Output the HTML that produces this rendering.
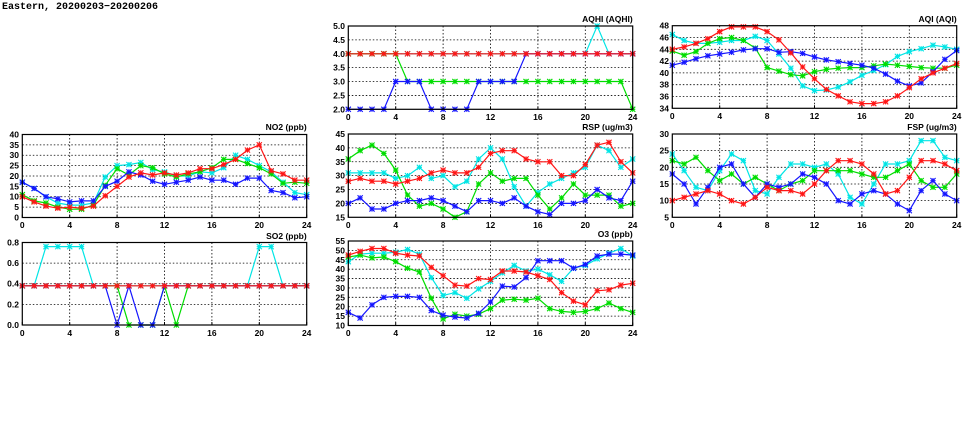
<!DOCTYPE html>
<html><head><meta charset="utf-8"><style>
html,body{margin:0;padding:0;background:#fff;width:975px;height:447px;overflow:hidden}
svg text{font-family:"Liberation Sans",sans-serif;font-size:8.5px;font-weight:bold;fill:#000}
</style></head><body>
<svg id="s" width="975" height="447" viewBox="0 0 975 447" xmlns="http://www.w3.org/2000/svg">
<text x="2" y="9" style="font-family:'Liberation Mono',monospace;font-size:10px;font-weight:bold">Eastern, 20200203−20200206</text>
<g id="dyn"></g>
<g text-anchor="end">
<text x="306.7" y="130">NO2 (ppb)</text>
<text x="306.7" y="239">SO2 (ppb)</text>
<text x="632.7" y="22">AQHI (AQHI)</text>
<text x="632.7" y="130">RSP (ug/m3)</text>
<text x="632.7" y="237">O3 (ppb)</text>
<text x="956.7" y="22">AQI (AQI)</text>
<text x="956.7" y="130">FSP (ug/m3)</text>
</g>
<g text-anchor="end">
<text x="19" y="220.5">0</text><text x="19" y="210.1">5</text><text x="19" y="199.7">10</text><text x="19" y="189.4">15</text><text x="19" y="179">20</text><text x="19" y="168.6">25</text><text x="19" y="158.2">30</text><text x="19" y="147.9">35</text><text x="19" y="137.5">40</text>
<text x="19" y="245.5">0.8</text><text x="19" y="266.1">0.6</text><text x="19" y="286.7">0.4</text><text x="19" y="307.4">0.2</text><text x="19" y="328">0.0</text>
<text x="345" y="29">5.0</text><text x="345" y="42.9">4.5</text><text x="345" y="56.8">4.0</text><text x="345" y="70.6">3.5</text><text x="345" y="84.5">3.0</text><text x="345" y="98.4">2.5</text><text x="345" y="112.3">2.0</text>
<text x="345" y="137">45</text><text x="345" y="150.9">40</text><text x="345" y="164.8">35</text><text x="345" y="178.6">30</text><text x="345" y="192.5">25</text><text x="345" y="206.4">20</text><text x="345" y="220.3">15</text>
<text x="345" y="244">55</text><text x="345" y="253.4">50</text><text x="345" y="262.8">45</text><text x="345" y="272.2">40</text><text x="345" y="281.6">35</text><text x="345" y="290.9">30</text><text x="345" y="300.3">25</text><text x="345" y="309.7">20</text><text x="345" y="319.1">15</text><text x="345" y="328.5">10</text>
<text x="669" y="28.7">48</text><text x="669" y="40.5">46</text><text x="669" y="52.3">44</text><text x="669" y="64.1">42</text><text x="669" y="75.9">40</text><text x="669" y="87.7">38</text><text x="669" y="99.5">36</text><text x="669" y="111.3">34</text>
<text x="669" y="137">30</text><text x="669" y="153.7">25</text><text x="669" y="170.3">20</text><text x="669" y="187">15</text><text x="669" y="203.6">10</text><text x="669" y="220.3">5</text>
</g>
<g text-anchor="middle">
<text x="22.3" y="228">0</text><text x="69.7" y="228">4</text><text x="117.1" y="228">8</text><text x="164.5" y="228">12</text><text x="211.9" y="228">16</text><text x="259.3" y="228">20</text><text x="306.7" y="228">24</text>
<text x="22.3" y="336">0</text><text x="69.7" y="336">4</text><text x="117.1" y="336">8</text><text x="164.5" y="336">12</text><text x="211.9" y="336">16</text><text x="259.3" y="336">20</text><text x="306.7" y="336">24</text>
<text x="348.3" y="120">0</text><text x="395.7" y="120">4</text><text x="443.1" y="120">8</text><text x="490.5" y="120">12</text><text x="537.9" y="120">16</text><text x="585.3" y="120">20</text><text x="632.7" y="120">24</text>
<text x="348.3" y="228">0</text><text x="395.7" y="228">4</text><text x="443.1" y="228">8</text><text x="490.5" y="228">12</text><text x="537.9" y="228">16</text><text x="585.3" y="228">20</text><text x="632.7" y="228">24</text>
<text x="348.3" y="336">0</text><text x="395.7" y="336">4</text><text x="443.1" y="336">8</text><text x="490.5" y="336">12</text><text x="537.9" y="336">16</text><text x="585.3" y="336">20</text><text x="632.7" y="336">24</text>
<text x="672.3" y="119">0</text><text x="719.7" y="119">4</text><text x="767.1" y="119">8</text><text x="814.5" y="119">12</text><text x="861.9" y="119">16</text><text x="909.3" y="119">20</text><text x="956.7" y="119">24</text>
<text x="672.3" y="228">0</text><text x="719.7" y="228">4</text><text x="767.1" y="228">8</text><text x="814.5" y="228">12</text><text x="861.9" y="228">16</text><text x="909.3" y="228">20</text><text x="956.7" y="228">24</text>
</g>
</svg>
<script>
var C={c:"#00e5e5",g:"#00dd00",b:"#1515ff",r:"#ff1515"};
var P=[
{x0:22.3,x1:306.7,t:134.5,b:217.5,mn:0,mx:40,st:5,d:{
c:[17,14,10,7,6,6,7,19.5,25,25.5,26.5,23,22,20,20,22,21.5,24,30,28,25,22,17,12,11],
g:[11,8,7,5,4,4,6,15.5,23.5,20.5,25,24,21,19.5,21,22,24,28,28,26,24,21,16.5,17,16.5],
b:[17,14,10,9,7.5,8,8,15,17.5,22,20.5,17.5,16,17,18,19.5,18,18,16,19,19,13,12,9.5,10],
r:[10,7.5,5.5,4.5,5,4.5,5.5,10.5,15,19.5,21.5,20.5,21.5,20.5,21.5,23.5,23.5,25.5,28,32.5,35,22.5,21,18,18]}},
{x0:22.3,x1:306.7,t:242.5,b:325,mn:0,mx:0.8,st:0.2,d:{
c:[.38,.38,.76,.76,.76,.76,.38,.38,.38,.38,.38,.38,.38,.38,.38,.38,.38,.38,.38,.38,.76,.76,.38,.38,.38],
g:[.38,.38,.38,.38,.38,.38,.38,.38,.38,0,0,0,.38,0,.38,.38,.38,.38,.38,.38,.38,.38,.38,.38,.38],
b:[.38,.38,.38,.38,.38,.38,.38,.38,0,.38,0,0,.38,.38,.38,.38,.38,.38,.38,.38,.38,.38,.38,.38,.38],
r:[.38,.38,.38,.38,.38,.38,.38,.38,.38,.38,.38,.38,.38,.38,.38,.38,.38,.38,.38,.38,.38,.38,.38,.38,.38]}},
{x0:348.3,x1:632.7,t:26,b:109.3,mn:2,mx:5,st:0.5,d:{
c:[4,4,4,4,4,4,4,4,4,4,4,4,4,4,4,4,4,4,4,4,4,5,4,4,4],
g:[4,4,4,4,4,3,3,3,3,3,3,3,3,3,3,3,3,3,3,3,3,3,3,3,2],
b:[2,2,2,2,3,3,3,2,2,2,2,3,3,3,3,4,4,4,4,4,4,4,4,4,4],
r:[4,4,4,4,4,4,4,4,4,4,4,4,4,4,4,4,4,4,4,4,4,4,4,4,4]}},
{x0:348.3,x1:632.7,t:134,b:217.3,mn:15,mx:45,st:5,d:{
c:[31,31,31,31,29,30,33,29,30,26,28,36,40,36,26,19,24,27,29,31,33,41,39,33,36],
g:[36,39,41,38,32,23,19,20,18,15,17,27,31,28,29,29,23,18,22,27,23,23,23,19,20],
b:[20,22,18,18,20,21,21,22,21,19,17,21,21,20,22,19,17,16,20,20,21,25,22,21,28],
r:[28,29,28,28,27,28,29,31,32,31,31,33,38,39,39,36,35,35,30,30,34,41,42,35,31]}},
{x0:348.3,x1:632.7,t:241,b:325.5,mn:10,mx:55,st:5,d:{
c:[44,48,48.5,48.5,49,50.5,48,35.5,26,27.5,24.5,29.5,33.5,38,42,39,40,37,33.5,40.5,42,45.5,48.5,51,47],
g:[46.5,47.5,46,46.5,44,40.5,38.5,24.5,13.5,16,15,16,19,23.5,24,23.5,24.5,19,17.5,17,17.5,19,22,19,17],
b:[17,14,21,25,25.5,25.5,25,18,15.5,14.5,14,16.5,22.5,31,30.5,35.5,44.5,44.5,44.5,40.5,42.5,47,48,48,47.5],
r:[47.5,49.5,51,51,48.5,47.5,47,41,36.5,31.5,31,35,34.5,39,39,38.5,36.5,34.5,27.5,23,21,28.5,29,31.5,32.5]}},
{x0:672.3,x1:956.7,t:25.7,b:108.3,mn:34,mx:48,st:2,d:{
c:[46.5,45.5,45,45,45.2,45.5,45.5,46.2,45.5,43.2,40.8,37.8,37,37.1,37.6,38.5,39.6,40.4,41.4,42.8,43.6,44.1,44.7,44.4,44],
g:[43.7,43,43.6,45,45.8,46,45.5,44.2,40.9,40.3,39.7,39.5,40.2,40.6,40.8,40.9,40.9,41.2,41.5,41.3,41.1,40.9,40.8,40.8,41.3],
b:[41.3,41.8,42.4,42.9,43.2,43.5,43.9,44.1,44.1,43.5,43.6,43.3,42.7,42.2,41.9,41.6,41.3,40.8,39.8,38.6,37.8,38.3,40.2,42.3,43.8],
r:[44,44.4,45,45.8,47,47.8,47.8,47.8,47,45.6,43.4,41,39,37.2,36.1,35.1,34.8,34.8,35.1,36.1,37.5,39,40,40.8,41.6]}},
{x0:672.3,x1:956.7,t:134,b:217.3,mn:5,mx:30,st:5,d:{
c:[24,19,14,13,19,24,22,13,12,17,21,21,20,21,18,11,9,15,21,21,22,28,28,23,22],
g:[22,21,23,19,16,18,15,17,15,13,15,16,19,19,19,19,18,17,17,19,21,16,14,14,18],
b:[18,15,9,14,20,21,15,11,15,14,15,18,17,15,10,9,12,13,12,9,7,13,16,12,10],
r:[10,11,12,13,12,10,9,11,14,13,13,12,15,19,22,22,21,18,12,13,17,22,22,21,19]}}
];
var h="";
P.forEach(function(p){
 var W=p.x1-p.x0,H=p.b-p.t;
 function X(i){return p.x0+i*W/24}
 function Y(v){return p.b-(v-p.mn)/(p.mx-p.mn)*H}
 for(var i=4;i<24;i+=4)h+='<line x1="'+X(i)+'" y1="'+p.t+'" x2="'+X(i)+'" y2="'+p.b+'" stroke="#000" stroke-width="0.8" stroke-dasharray="1.5,2"/>';
 for(var v=p.mn+p.st;v<p.mx-1e-6;v+=p.st)h+='<line x1="'+p.x0+'" y1="'+Y(v)+'" x2="'+p.x1+'" y2="'+Y(v)+'" stroke="#000" stroke-width="0.8" stroke-dasharray="1.5,2"/>';
 ["c","g","b","r"].forEach(function(k){
  var a=p.d[k],pts=a.map(function(v,i){return X(i).toFixed(1)+","+Y(v).toFixed(1)}).join(" ");
  h+='<polyline points="'+pts+'" fill="none" stroke="'+C[k]+'" stroke-width="1.2"/>';
  a.forEach(function(v,i){var x=X(i),y=Y(v),s=2.6;
   h+='<path d="M'+(x-s)+' '+(y-s)+'L'+(x+s)+' '+(y+s)+'M'+(x-s)+' '+(y+s)+'L'+(x+s)+' '+(y-s)+'M'+(x-s)+' '+y+'L'+(x+s)+' '+y+'M'+x+' '+(y-s)+'L'+x+' '+(y+s)+'" stroke="'+C[k]+'" stroke-width="1.1" fill="none"/>';});
 });
 h+='<rect x="'+p.x0+'" y="'+p.t+'" width="'+W+'" height="'+H+'" fill="none" stroke="#000" stroke-width="1.2"/>';
 for(var i=0;i<=24;i+=4)h+='<line x1="'+X(i)+'" y1="'+p.b+'" x2="'+X(i)+'" y2="'+(p.b-3)+'" stroke="#000"/>';
});
document.getElementById("dyn").innerHTML=h;
</script>
</body></html>
